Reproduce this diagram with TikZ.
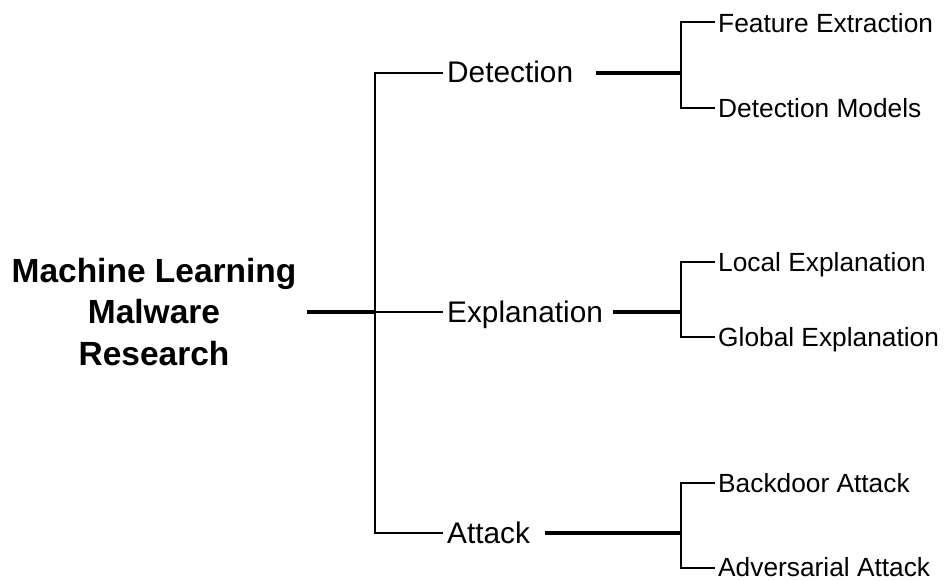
\documentclass[tikz,border=0pt]{standalone}
\usepackage{fontspec}
\setmainfont{Liberation Sans}
\begin{document}
\begin{tikzpicture}[x=1pt,y=-1pt,
  rootlbl/.style={font=\fontsize{33.5}{41.5}\selectfont\bfseries, align=center, inner sep=0pt},
  midlbl/.style={font=\fontsize{29.8}{34}\selectfont, anchor=base west, inner sep=0pt},
  leaflbl/.style={font=\fontsize{26.3}{30}\selectfont, anchor=base west, inner sep=0pt},
  heavy/.style={line width=3.3pt},
  light/.style={line width=2.7pt},
  every path/.style={line join=miter}]
\useasboundingbox (0,0) rectangle (948,581);
% root
\node[rootlbl] (root) at (154,312) {Machine Learning\\Malware\\Research};
% level 1
\node[midlbl] (det) at (447,82) {Detection};
\node[midlbl] (exp) at (447,322) {Explanation};
\node[midlbl] (att) at (447,543) {Attack};
% leaves
\node[leaflbl] (fe) at (718,32) {Feature Extraction};
\node[leaflbl] (dm) at (718,117) {Detection Models};
\node[leaflbl] (le) at (718,271) {Local Explanation};
\node[leaflbl] (ge) at (718,346) {Global Explanation};
\node[leaflbl] (ba) at (718,492) {Backdoor Attack};
\node[leaflbl] (aa) at (718,576) {Adversarial Attack};
% junction coordinates
\coordinate (rootR) at (307,312);
\coordinate (trunk) at (375,312);
\coordinate (detL) at (443,73);
\coordinate (expL) at (443,312);
\coordinate (attL) at (443,533);
\coordinate (detR) at (596,73);
\coordinate (expR) at (613,312);
\coordinate (attR) at (545,533);
\coordinate (detJ) at (681,73);
\coordinate (expJ) at (681,312);
\coordinate (attJ) at (681,533);
\coordinate (feL) at (715,22);
\coordinate (dmL) at (715,108);
\coordinate (leL) at (715,262);
\coordinate (geL) at (715,337);
\coordinate (baL) at (715,483);
\coordinate (aaL) at (715,568);
% root to trunk
\draw[heavy] (rootR) -- (trunk);
\draw[light] (detL) -| (trunk |- attL) -- (attL);
\draw[light] (trunk) -- (expL);
% level 1 to level 2
\draw[heavy] (detR) -- (detJ);
\draw[heavy] (expR) -- (expJ);
\draw[heavy] (attR) -- (attJ);
\draw[light] (feL) -| (detJ |- dmL) -- (dmL);
\draw[light] (leL) -| (expJ |- geL) -- (geL);
\draw[light] (baL) -| (attJ |- aaL) -- (aaL);
\end{tikzpicture}
\end{document}
